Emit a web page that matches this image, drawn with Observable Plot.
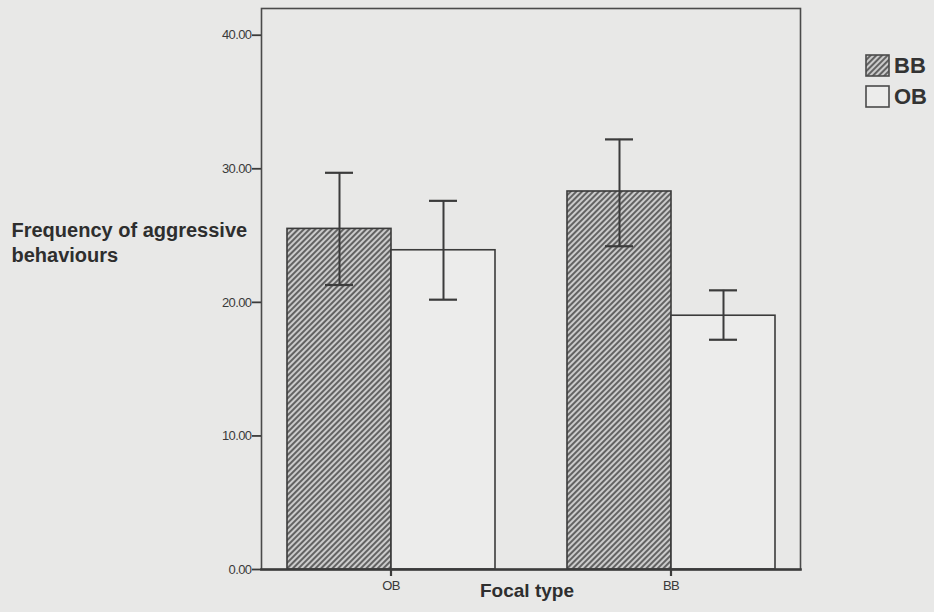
<!DOCTYPE html>
<html>
<head>
<meta charset="utf-8">
<script src="https://cdn.jsdelivr.net/npm/d3@7"></script>
<script src="https://cdn.jsdelivr.net/npm/@observablehq/plot@0.6"></script>
<style>
  html, body { margin: 0; padding: 0; background: #e8e8e7; }
  #chart { position: relative; width: 934px; height: 612px; font-family: Arial, "Liberation Sans", sans-serif; }
  #legend { position: absolute; left: 865px; top: 50px; }
  .item { display: flex; align-items: center; height: 31px; }
  .item svg { display: block; }
  .item span { font-size: 22px; font-weight: bold; color: #333; margin-left: 4px; line-height: 22px; }
  .tight text { letter-spacing: -0.6px; }
</style>
</head>
<body>
<div id="chart"><div id="legend"></div></div>
<script>
// Focal type groups along the x axis, and the two behaviour series within each group
const focalTypes = ["OB", "BB"];
const seriesNames = ["BB", "OB"];

// Mean frequency of aggressive behaviours with error bar bounds, per focal type
const bbMean = [25.5, 28.3];
const bbLow  = [21.3, 24.2];
const bbHigh = [29.7, 32.2];
const obMean = [23.9, 19.0];
const obLow  = [20.2, 17.2];
const obHigh = [27.6, 20.9];

const yTicks = [0, 10, 20, 30, 40];
const yLabel = "Frequency of aggressive\nbehaviours";
const xLabel = "Focal type";

const rows = focalTypes.flatMap((focal, i) => [
  {focal, series: "BB", mean: bbMean[i], low: bbLow[i], high: bbHigh[i]},
  {focal, series: "OB", mean: obMean[i], low: obLow[i], high: obHigh[i]}
]);

const ink = "#3b3b3b";

const plot = Plot.plot({
  width: 934,
  height: 612,
  marginLeft: 261,
  marginRight: 134,
  marginTop: 8,
  marginBottom: 43,
  style: {background: "transparent", fontFamily: "Arial, 'Liberation Sans', sans-serif", color: "#333"},
  fx: {domain: focalTypes, paddingInner: 0.075, paddingOuter: 0, label: null},
  x: {domain: seriesNames, paddingInner: 0, paddingOuter: 0.245, axis: null},
  y: {domain: [0, 42]},
  color: {domain: seriesNames, range: ["url(#hatch)", "#ececeb"]},
  marks: [
    Plot.barY(rows, {fx: "focal", x: "series", y: "mean", fill: "series", stroke: ink, strokeWidth: 1.6}),
    Plot.ruleX(rows, {fx: "focal", x: "series", y1: "low", y2: "high", stroke: ink, strokeWidth: 2}),
    Plot.tickY(rows, {fx: "focal", x: "series", y: "high", insetLeft: 38, insetRight: 38, stroke: ink, strokeWidth: 2.2}),
    Plot.tickY(rows, {fx: "focal", x: "series", y: "low", insetLeft: 38, insetRight: 38, stroke: ink, strokeWidth: 2.2}),
    Plot.frame({facet: "super", stroke: "#4a4a4a", strokeWidth: 1.6}),
    Plot.frame({facet: "super", anchor: "bottom", stroke: ink, strokeWidth: 2.6}),
    Plot.axisY({ticks: yTicks, tickFormat: d3.format(".2f"), tickSize: 9, tickPadding: 1, fontSize: 13, label: null,
      stroke: ink, strokeWidth: 1.8, fill: "#3a3a3a", className: "tight"}),
    Plot.axisFx({anchor: "bottom", tickSize: 7, tickPadding: 4, fontSize: 13, label: null,
      stroke: ink, strokeWidth: 2.2, fill: "#3a3a3a", className: "tight"}),
    Plot.text([yLabel], {facet: "super", text: d => d, frameAnchor: "top-left", textAnchor: "start", lineAnchor: "top",
      dx: -250, dy: 210, fontSize: 20, fontWeight: "bold", lineHeight: 1.27, fill: "#2e2e2e"}),
    Plot.text([xLabel], {facet: "super", text: d => d, frameAnchor: "bottom", dx: -4, dy: 27,
      fontSize: 19, fontWeight: "bold", fill: "#2e2e2e"})
  ]
});

// Diagonal hatch used by the BB series
const defs = d3.select(plot).insert("defs", ":first-child");
const pat = defs.append("pattern")
  .attr("id", "hatch")
  .attr("patternUnits", "userSpaceOnUse")
  .attr("width", 4).attr("height", 4)
  .attr("patternTransform", "rotate(45)");
pat.append("rect").attr("width", 4).attr("height", 4).attr("fill", "#cbcbcb");
pat.append("line").attr("x1", 1).attr("y1", 0).attr("x2", 1).attr("y2", 4)
  .attr("stroke", "#505050").attr("stroke-width", 1.7);

const chart = document.getElementById("chart");
chart.insertBefore(plot, chart.firstChild);

// Legend swatches share the colour scale of the bars
const color = plot.scale("color");
const legend = d3.select("#legend");
seriesNames.forEach(name => {
  const item = legend.append("div").attr("class", "item");
  const sw = item.append("svg").attr("width", 25).attr("height", 23);
  sw.append("rect").attr("x", 1).attr("y", 1).attr("width", 23).attr("height", 21)
    .attr("fill", color.apply(name)).attr("stroke", "#4a4a4a").attr("stroke-width", 1.6);
  item.append("span").text(name);
});
</script>
</body>
</html>
